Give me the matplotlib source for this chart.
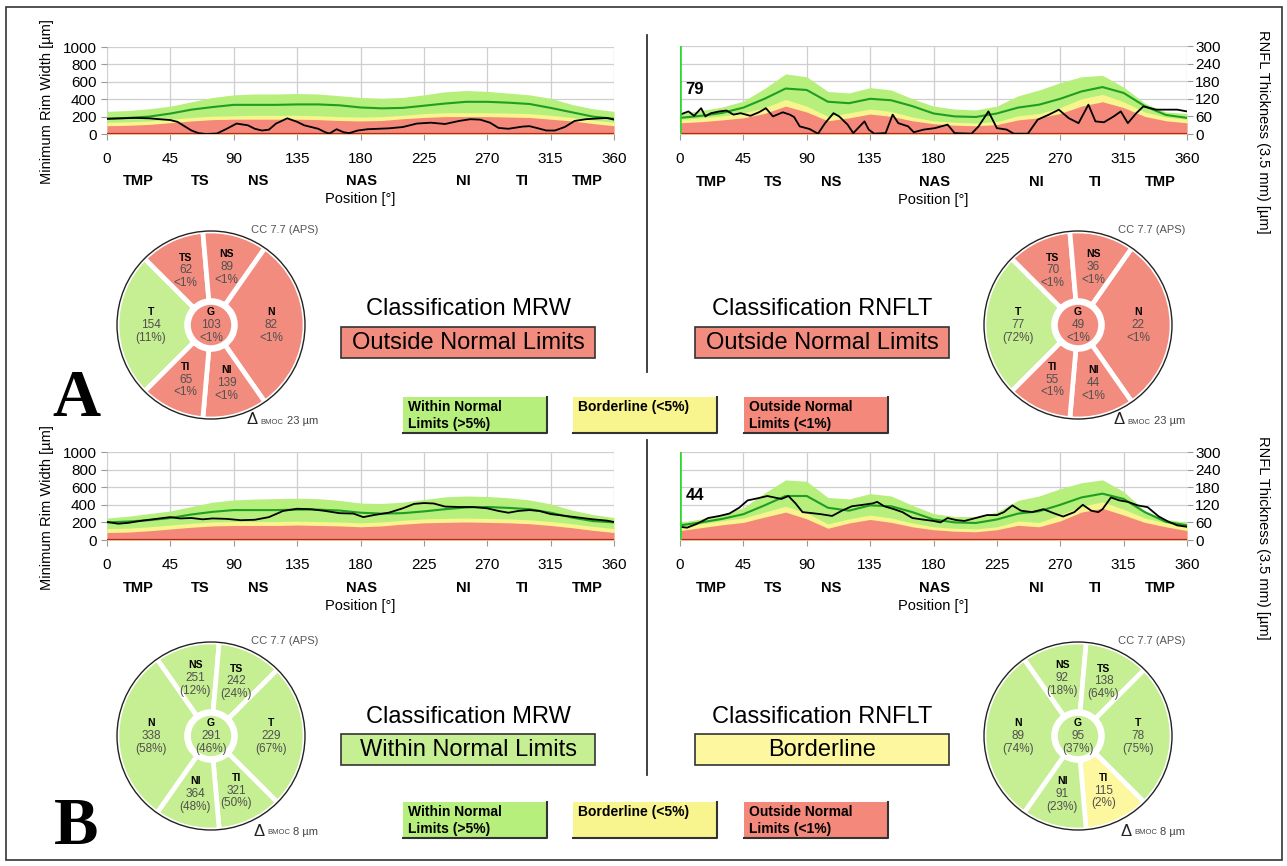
import matplotlib
matplotlib.use("Agg")
import matplotlib.pyplot as plt
from matplotlib.patches import Rectangle, Wedge, Circle
import numpy as np

plt.rcParams['font.family'] = ['Liberation Sans', 'DejaVu Sans']

# ---------------- data ----------------
band_deg = [0, 15, 30, 45, 60, 75, 90, 105, 120, 135, 150, 165, 180,
            195, 210, 225, 240, 255, 270, 285, 300, 315, 330, 345, 360]
xticks = [0, 45, 90, 135, 180, 225, 270, 315, 360]
sector_names = ['TMP', 'TS', 'NS', 'NAS', 'NI', 'TI', 'TMP']
sector_pos = [22, 66, 107, 181, 253, 295, 341]

# A - MRW
a_mrw_red = [95, 100, 110, 130, 150, 165, 170, 170, 170, 170, 165, 155, 150, 155, 175, 190, 200, 200, 200, 195, 190, 170, 150, 120, 95]
a_mrw_yel = [135, 140, 150, 170, 190, 205, 210, 215, 215, 215, 210, 200, 195, 200, 215, 235, 245, 245, 245, 240, 235, 215, 190, 160, 135]
a_mrw_grn = [260, 270, 290, 320, 370, 420, 450, 460, 460, 465, 460, 440, 420, 410, 420, 450, 485, 500, 490, 470, 450, 410, 340, 290, 260]
a_mrw_mean = [175, 185, 200, 235, 280, 310, 335, 335, 335, 340, 340, 330, 305, 295, 300, 325, 350, 370, 370, 360, 345, 300, 250, 200, 175]
a_mrw_deg = [0, 10, 20, 30, 45, 50, 55, 60, 65, 70, 78, 85, 92, 100, 105, 110, 115, 120, 128, 135, 140, 145, 150, 155,
             158, 163, 168, 172, 178, 185, 200, 210, 220, 230, 240, 250, 258, 265, 272, 278, 285, 295, 300, 305, 312,
             318, 325, 332, 340, 350, 355, 360]
a_mrw_pt = [175, 180, 185, 180, 160, 140, 90, 40, 10, 0, 5, 60, 120, 100, 60, 40, 50, 120, 180, 140, 100, 80, 60, 20,
            5, 55, 20, 10, 40, 55, 65, 80, 120, 130, 115, 150, 170, 165, 130, 70, 60, 85, 90, 70, 40,
            40, 80, 150, 170, 180, 185, 165]

# A - RNFLT
a_rnf_red = [38, 42, 48, 55, 70, 95, 75, 45, 55, 68, 60, 45, 35, 30, 28, 32, 48, 55, 70, 95, 110, 90, 60, 45, 38]
a_rnf_yel = [50, 55, 62, 72, 90, 118, 95, 60, 72, 85, 77, 58, 45, 40, 38, 42, 62, 70, 90, 120, 135, 110, 75, 58, 50]
a_rnf_grn = [70, 80, 92, 112, 155, 205, 195, 145, 140, 158, 150, 120, 95, 85, 82, 95, 130, 150, 175, 195, 200, 160, 105, 75, 70]
a_rnf_mean = [55, 62, 72, 90, 120, 155, 150, 110, 105, 120, 115, 95, 70, 60, 58, 70, 90, 100, 120, 145, 160, 140, 95, 65, 55]
a_rnf_deg = [0, 6, 10, 15, 18, 22, 28, 33, 38, 43, 50, 56, 61, 66, 73, 78, 81, 85, 92, 98, 103, 109, 113, 119, 123,
             131, 134, 138, 146, 151, 155, 162, 166, 173, 181, 190, 195, 207, 212, 219, 225, 232, 237, 247, 254, 262,
             269, 276, 283, 290, 295, 301, 308, 313, 318, 324, 329, 338, 346, 353, 360]
a_rnf_pt = [66, 77, 62, 88, 60, 71, 77, 80, 66, 71, 62, 74, 88, 60, 74, 66, 58, 26, 17, 1, 37, 71, 60, 32, 3,
            43, 15, 1, 3, 66, 37, 26, 6, 15, 20, 32, 3, 1, 26, 77, 20, 15, 1, 1, 49, 66,
            83, 54, 37, 100, 43, 40, 60, 77, 37, 71, 94, 83, 83, 83, 77]

# B - MRW
b_mrw_red = [85, 90, 105, 125, 145, 160, 165, 165, 165, 170, 165, 160, 150, 160, 180, 195, 200, 205, 200, 195, 185, 165, 140, 110, 85]
b_mrw_yel = [130, 135, 150, 170, 190, 205, 210, 210, 210, 215, 210, 205, 195, 205, 225, 240, 245, 250, 245, 240, 230, 210, 185, 155, 130]
b_mrw_grn = [250, 270, 300, 330, 380, 430, 455, 465, 470, 475, 470, 450, 420, 415, 430, 460, 490, 500, 495, 480, 455, 410, 340, 290, 255]
b_mrw_mean = [200, 210, 225, 250, 290, 320, 340, 340, 340, 345, 345, 335, 310, 300, 305, 325, 350, 370, 375, 365, 350, 310, 255, 215, 200]
b_mrw_deg = [0, 8, 15, 25, 35, 45, 52, 60, 68, 75, 85, 95, 105, 115, 125, 135, 145, 155, 165, 175, 182, 190, 200,
             210, 218, 225, 232, 240, 250, 260, 270, 278, 285, 292, 300, 307, 315, 325, 335, 345, 355, 360]
b_mrw_pt = [205, 185, 195, 220, 240, 260, 245, 250, 235, 245, 240, 225, 230, 260, 330, 355, 350, 330, 305, 300, 260, 285, 310,
            360, 410, 420, 415, 380, 375, 375, 360, 330, 310, 330, 340, 330, 295, 275, 255, 235, 220, 205]

# B - RNFLT
b_rnf_red = [32, 42, 52, 60, 78, 95, 72, 40, 58, 70, 60, 45, 35, 30, 28, 35, 50, 45, 65, 95, 108, 85, 60, 45, 32]
b_rnf_yel = [45, 55, 66, 75, 95, 115, 92, 55, 72, 85, 75, 58, 45, 40, 38, 45, 65, 60, 85, 115, 130, 105, 75, 58, 45]
b_rnf_grn = [60, 72, 88, 110, 160, 205, 200, 145, 140, 158, 150, 118, 90, 80, 80, 95, 135, 150, 175, 195, 205, 165, 100, 70, 60]
b_rnf_mean = [50, 60, 72, 88, 118, 150, 150, 110, 100, 118, 115, 95, 70, 60, 58, 70, 90, 98, 120, 145, 158, 140, 95, 62, 50]
b_rnf_deg = [0, 5, 12, 20, 28, 35, 42, 48, 55, 62, 67, 72, 77, 82, 87, 93, 100, 108, 115, 122, 130, 137, 140, 145,
             152, 158, 165, 172, 180, 185, 190, 196, 202, 210, 218, 225, 230, 236, 242, 250, 258, 265, 272, 280,
             286, 292, 297, 300, 306, 312, 318, 325, 332, 340, 347, 353, 360]
b_rnf_pt = [45, 42, 55, 75, 82, 90, 110, 135, 142, 150, 145, 140, 150, 125, 95, 92, 88, 82, 100, 115, 120, 125, 130, 115,
            105, 95, 75, 70, 65, 60, 75, 68, 65, 75, 85, 85, 95, 118, 100, 95, 105, 92, 80, 95,
            120, 100, 95, 105, 145, 135, 130, 118, 112, 80, 62, 50, 45]

# sector tables (name, theta1, theta2, value, pct, status)
a_mrw_sec = [('T', 135, 225, '154', '(11%)', 'g'), ('TS', 95, 135, '62', '<1%', 'r'),
             ('NS', 55, 95, '89', '<1%', 'r'), ('N', -55, 55, '82', '<1%', 'r'),
             ('NI', -95, -55, '139', '<1%', 'r'), ('TI', -135, -95, '65', '<1%', 'r')]
a_mrw_g = ('103', '<1%', 'r')
a_rnf_sec = [('T', 135, 225, '77', '(72%)', 'g'), ('TS', 95, 135, '70', '<1%', 'r'),
             ('NS', 55, 95, '36', '<1%', 'r'), ('N', -55, 55, '22', '<1%', 'r'),
             ('NI', -95, -55, '44', '<1%', 'r'), ('TI', -135, -95, '55', '<1%', 'r')]
a_rnf_g = ('49', '<1%', 'r')
b_mrw_sec = [('N', 125, 235, '338', '(58%)', 'g'), ('NS', 85, 125, '251', '(12%)', 'g'),
             ('TS', 45, 85, '242', '(24%)', 'g'), ('T', -45, 45, '229', '(67%)', 'g'),
             ('TI', -85, -45, '321', '(50%)', 'g'), ('NI', -125, -85, '364', '(48%)', 'g')]
b_mrw_g = ('291', '(46%)', 'g')
b_rnf_sec = [('N', 125, 235, '89', '(74%)', 'g'), ('NS', 85, 125, '92', '(18%)', 'g'),
             ('TS', 45, 85, '138', '(64%)', 'g'), ('T', -45, 45, '78', '(75%)', 'g'),
             ('TI', -85, -45, '115', '(2%)', 'y'), ('NI', -125, -85, '91', '(23%)', 'g')]
b_rnf_g = ('95', '(37%)', 'g')

# ---------------- style ----------------
W, H = 1287, 866
BAND_G = '#B6EF7C'
BAND_Y = '#F8F48E'
BAND_R = '#F4887A'
MEAN_C = '#1E9E22'
PIE_C = {'g': '#C6EE92', 'r': '#F28C7E', 'y': '#FDF7A0'}

fig = plt.figure(figsize=(W / 100, H / 100), dpi=100)
ov = fig.add_axes([0, 0, 1, 1])
ov.set_xlim(0, W)
ov.set_ylim(H, 0)
ov.axis('off')


def px_axes(x0, y0, x1, y1):
    return fig.add_axes([x0 / W, 1 - y1 / H, (x1 - x0) / W, (y1 - y0) / H])


def draw_chart(box, red, yel, grn, mean, pdeg, pval, ymax, yticks, right=False, mark=None):
    ax = px_axes(*box)
    ax.fill_between(band_deg, 0, grn, color=BAND_G, lw=0, zorder=2)
    ax.fill_between(band_deg, 0, yel, color=BAND_Y, lw=0, zorder=2)
    ax.fill_between(band_deg, 0, red, color=BAND_R, lw=0, zorder=2)
    ax.plot(band_deg, mean, color=MEAN_C, lw=1.5, zorder=3)
    ax.plot(pdeg, pval, color='black', lw=1.3, zorder=4)
    ax.axhline(0, color='#B02A1C', lw=1.6, zorder=3)
    ax.set_xlim(0, 360)
    ax.set_ylim(0, ymax)
    ax.set_xticks(xticks)
    ax.set_yticks(yticks)
    ax.grid(True, color='#CFCFCF', lw=0.9, zorder=0)
    ax.set_axisbelow(True)
    for s in ax.spines.values():
        s.set_visible(False)
    ax.tick_params(labelsize=11, color='#999999', length=4, width=0.8)
    ax.tick_params(axis='x', pad=9)
    if right:
        ax.yaxis.tick_right()
        ax.tick_params(axis='y', pad=2)
        ax.axvline(0, color='#2BD82B', lw=2.6, zorder=5)
        ax.text(4, 0.5 * ymax, mark, fontsize=12, fontweight='bold', va='center', zorder=6)
    tr = ax.get_xaxis_transform()
    for nm, p in zip(sector_names, sector_pos):
        ax.text(p, -0.54, nm, transform=tr, ha='center', va='center', fontsize=10.5, fontweight='bold')
    ax.text(180, -0.75, 'Position [°]', transform=tr, ha='center', va='center', fontsize=10.5)
    return ax


def draw_pie(cx, cy, sectors, gdata, delta):
    R = 94
    pa = px_axes(cx - R - 3, cy - R - 3, cx + R + 3, cy + R + 3)
    lim = (R + 3) / R
    pa.set_xlim(-lim, lim)
    pa.set_ylim(-lim, lim)
    pa.axis('off')
    for nm, t1, t2, val, pct, st in sectors:
        pa.add_patch(Wedge((0, 0), 1.0, t1, t2, width=0.74, facecolor=PIE_C[st],
                           edgecolor='white', lw=3.4))
        mid = np.deg2rad((t1 + t2) / 2)
        rr = 0.64
        tx, ty = rr * np.cos(mid), rr * np.sin(mid)
        pa.text(tx, ty + 0.135, nm, ha='center', va='center', fontsize=7.5, fontweight='bold')
        pa.text(tx, ty, val, ha='center', va='center', fontsize=8.5, color='#505050')
        pa.text(tx, ty - 0.135, pct, ha='center', va='center', fontsize=8.5, color='#505050')
    gv, gp, gs = gdata
    pa.add_patch(Circle((0, 0), 0.265, facecolor='white', edgecolor='none'))
    pa.add_patch(Circle((0, 0), 0.215, facecolor=PIE_C[gs], edgecolor='none'))
    pa.text(0, 0.135, 'G', ha='center', va='center', fontsize=7.5, fontweight='bold')
    pa.text(0, 0, gv, ha='center', va='center', fontsize=8.5, color='#505050')
    pa.text(0, -0.135, gp, ha='center', va='center', fontsize=8.5, color='#505050')
    pa.add_patch(Circle((0, 0), 1.0, fill=False, edgecolor='#222222', lw=1.0))
    ov.text(cx + 107, cy - 95, 'CC 7.7 (APS)', ha='right', va='center', fontsize=8, color='#555555')
    ov.text(cx + 107, cy + 96, delta + ' µm', ha='right', va='center', fontsize=8, color='#444444')
    off = 7 * len(delta)
    ov.text(cx + 86 - off, cy + 97, 'BMOC', ha='right', va='center', fontsize=5.5, color='#444444')
    ov.text(cx + 61 - off, cy + 95, 'Δ', ha='right', va='center', fontsize=12, color='#222222')


def draw_class(cx, y_title, y_box, title, label, col):
    ov.text(cx, y_title, title, ha='center', va='center', fontsize=17)
    ov.add_patch(Rectangle((cx - 127, y_box), 254, 31, facecolor=col, edgecolor='#333333', lw=1.2))
    ov.text(cx, y_box + 16, label, ha='center', va='center', fontsize=17)


def draw_legend(y):
    items = [(403, BAND_G, 'Within Normal\nLimits (>5%)'),
             (573, BAND_Y, 'Borderline (<5%)'),
             (744, BAND_R, 'Outside Normal\nLimits (<1%)')]
    for x, c, t in items:
        ov.add_patch(Rectangle((x, y), 144, 36, facecolor=c, edgecolor='none'))
        ov.plot([x, x + 144, x + 144], [y + 36, y + 36, y], color='#333333', lw=1.5)
        ov.text(x + 5, y + 3, t, ha='left', va='top', fontsize=10, fontweight='bold', linespacing=1.25)


# frame and dividers
ov.add_patch(Rectangle((6, 7), 1276, 853, fill=False, edgecolor='#333333', lw=1.2))
ov.plot([647, 647], [35, 372], color='#333333', lw=1.3)
ov.plot([647, 647], [440, 775], color='#333333', lw=1.3)

# charts
draw_chart((107, 47, 614, 134), a_mrw_red, a_mrw_yel, a_mrw_grn, a_mrw_mean, a_mrw_deg, a_mrw_pt,
           1000, [0, 200, 400, 600, 800, 1000])
draw_chart((680, 46, 1187, 134), a_rnf_red, a_rnf_yel, a_rnf_grn, a_rnf_mean, a_rnf_deg, a_rnf_pt,
           300, [0, 60, 120, 180, 240, 300], right=True, mark='79')
draw_chart((107, 452, 614, 540), b_mrw_red, b_mrw_yel, b_mrw_grn, b_mrw_mean, b_mrw_deg, b_mrw_pt,
           1000, [0, 200, 400, 600, 800, 1000])
draw_chart((680, 452, 1187, 540), b_rnf_red, b_rnf_yel, b_rnf_grn, b_rnf_mean, b_rnf_deg, b_rnf_pt,
           300, [0, 60, 120, 180, 240, 300], right=True, mark='44')

for yc in (102, 508):
    ov.text(47, yc, 'Minimum Rim Width [µm]', rotation=90, ha='center', va='center', fontsize=10.5)
    ov.text(1263, yc + 30, 'RNFL Thickness (3.5 mm) [µm]', rotation=270, ha='center', va='center', fontsize=10.5)

# pies
draw_pie(211, 325, a_mrw_sec, a_mrw_g, '23')
draw_pie(1078, 325, a_rnf_sec, a_rnf_g, '23')
draw_pie(211, 736, b_mrw_sec, b_mrw_g, '8')
draw_pie(1078, 736, b_rnf_sec, b_rnf_g, '8')

# classification
draw_class(468, 309, 327, 'Classification MRW', 'Outside Normal Limits', PIE_C['r'])
draw_class(822, 309, 327, 'Classification RNFLT', 'Outside Normal Limits', PIE_C['r'])
draw_class(468, 717, 734, 'Classification MRW', 'Within Normal Limits', PIE_C['g'])
draw_class(822, 717, 734, 'Classification RNFLT', 'Borderline', PIE_C['y'])

draw_legend(397)
draw_legend(802)

ov.text(76, 400, 'A', ha='center', va='center', fontsize=48, fontweight='bold', family='Liberation Serif')
ov.text(76, 827, 'B', ha='center', va='center', fontsize=48, fontweight='bold', family='Liberation Serif')

fig.savefig('out.png', dpi=100)
